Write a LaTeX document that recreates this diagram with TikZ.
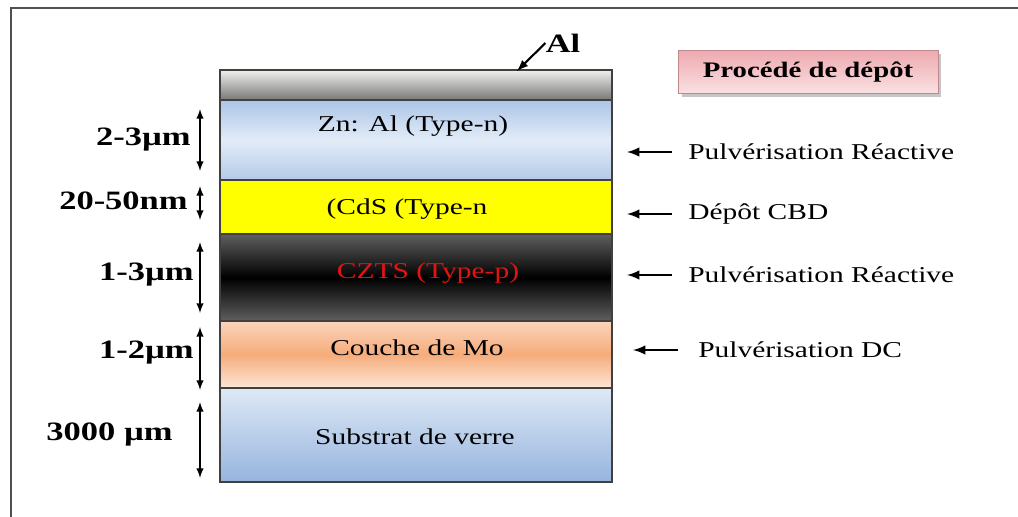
\documentclass[tikz,border=0pt]{standalone}
\usepackage{fontspec}
\setmainfont{Liberation Serif}[FakeStretch=1.3]
\usetikzlibrary{positioning, calc, shadows}

\definecolor{alTop}{RGB}{240,240,238}
\definecolor{alBot}{RGB}{120,120,118}
\definecolor{znTop}{RGB}{172,196,230}
\definecolor{znMid}{RGB}{226,236,248}
\definecolor{znBot}{RGB}{180,202,232}
\definecolor{cdsYellow}{RGB}{255,255,0}
\definecolor{cztsEdge}{RGB}{95,95,95}
\definecolor{cztsRed}{RGB}{225,20,20}
\definecolor{moTop}{RGB}{252,212,188}
\definecolor{moMid}{RGB}{245,172,122}
\definecolor{moBot}{RGB}{253,230,214}
\definecolor{glassTop}{RGB}{222,233,245}
\definecolor{glassBot}{RGB}{150,180,222}
\definecolor{titleTop}{RGB}{238,170,176}
\definecolor{titleBot}{RGB}{250,224,226}
\definecolor{frameGray}{RGB}{80,80,80}

\tikzset{
  layer/.style={draw=black!75, line width=0.8pt, minimum width=7.84cm, inner sep=0pt},
  layertext/.style={font=\fontsize{12.9}{14}\selectfont},
  dimlabel/.style={font=\bfseries\fontsize{15.1}{17}\selectfont, anchor=east, inner sep=0pt},
  dimarrow/.style={<->, >=latex, line width=0.9pt},
  proctext/.style={font=\fontsize{12.9}{14}\selectfont, anchor=west, inner sep=0pt},
  procarrow/.style={->, >=latex, line width=1.4pt, shorten <=0.32cm}
}

\begin{document}
\begin{tikzpicture}[x=0.02cm, y=-0.02cm]
  \useasboundingbox (0,0) rectangle (1018,517);
  \draw[frameGray, line width=1.3pt] (11,517) -- (11,8) -- (1018,8);

  % layer stack
  \node[layer, minimum height=0.6cm, top color=alTop, bottom color=alBot] (al) at (416,85) {};
  \node[layer, minimum height=1.6cm, top color=znTop, bottom color=znBot, middle color=znMid] (zn) at (416,140) {};
  \node[layer, minimum height=1.08cm, fill=cdsYellow] (cds) at (416,207) {};
  \node[layer, minimum height=1.74cm, top color=cztsEdge, bottom color=cztsEdge, middle color=black] (czts) at (416,277.5) {};
  \node[layer, minimum height=1.34cm, top color=moTop, bottom color=moBot, middle color=moMid] (mo) at (416,354.5) {};
  \node[layer, minimum height=1.88cm, top color=glassTop, bottom color=glassBot] (glass) at (416,435) {};

  \node[layertext] (zntxt) at (413,126) {Zn: Al (Type-n)};
  \node[layertext] (cdstxt) at (407,209) {(CdS (Type-n};
  \node[layertext, text=cztsRed] (cztstxt) at (428,273) {CZTS (Type-p)};
  \node[layertext] (motxt) at (417,348) {Couche de Mo};
  \node[layertext] (glasstxt) at (415,437) {Substrat de verre};

  % Al contact
  \node[font=\bfseries\fontsize{15.1}{17}\selectfont, inner sep=0pt] (altxt) at (563,43) {Al};
  \coordinate (altip) at (517,71);
  \draw[->, >=latex, line width=1.2pt] (altxt.west) -- (altip);

  % thicknesses
  \node[dimlabel] (dzn) at (191,140) {2-3µm};
  \node[dimlabel] (dcds) at (188,201) {20-50nm};
  \node[dimlabel] (dczts) at (194,275) {1-3µm};
  \node[dimlabel] (dmo) at (194,353) {1-2µm};
  \node[dimlabel] (dglass) at (173,435) {3000 µm};

  \coordinate (zn1) at (200,109);  \coordinate (zn2) at (200,171);
  \coordinate (cds1) at (200,186); \coordinate (cds2) at (200,220);
  \coordinate (czts1) at (200,242); \coordinate (czts2) at (200,313);
  \coordinate (mo1) at (200,327);  \coordinate (mo2) at (200,390);
  \coordinate (glass1) at (200,402); \coordinate (glass2) at (200,478);

  \draw[dimarrow] (zn1) -- (zn2);
  \draw[dimarrow] (cds1) -- (cds2);
  \draw[dimarrow] (czts1) -- (czts2);
  \draw[dimarrow] (mo1) -- (mo2);
  \draw[dimarrow] (glass1) -- (glass2);

  % deposition process
  \node[draw=titleTop!80!black, line width=0.4pt, top color=titleTop, bottom color=titleBot,
        drop shadow={opacity=0.45, shadow xshift=2pt, shadow yshift=-2pt},
        minimum width=5.2cm, minimum height=0.86cm,
        font=\bfseries\fontsize{12.6}{14}\selectfont] (proc) at (808,72) {Procédé de dépôt};

  \node[proctext] (pzn) at (688,152) {Pulvérisation Réactive};
  \node[proctext] (pcds) at (688,214) {Dépôt CBD};
  \node[proctext] (pczts) at (688,275) {Pulvérisation Réactive};
  \node[proctext] (pmo) at (698,350) {Pulvérisation DC};

  \coordinate (azn) at (627,152);
  \coordinate (acds) at (627,214);
  \coordinate (aczts) at (627,275);
  \coordinate (amo) at (633,350);

  \draw[procarrow] (pzn.west) -- (azn);
  \draw[procarrow] (pcds.west) -- (acds);
  \draw[procarrow] (pczts.west) -- (aczts);
  \draw[procarrow, shorten <=0.4cm] (pmo.west) -- (amo);
\end{tikzpicture}
\end{document}
